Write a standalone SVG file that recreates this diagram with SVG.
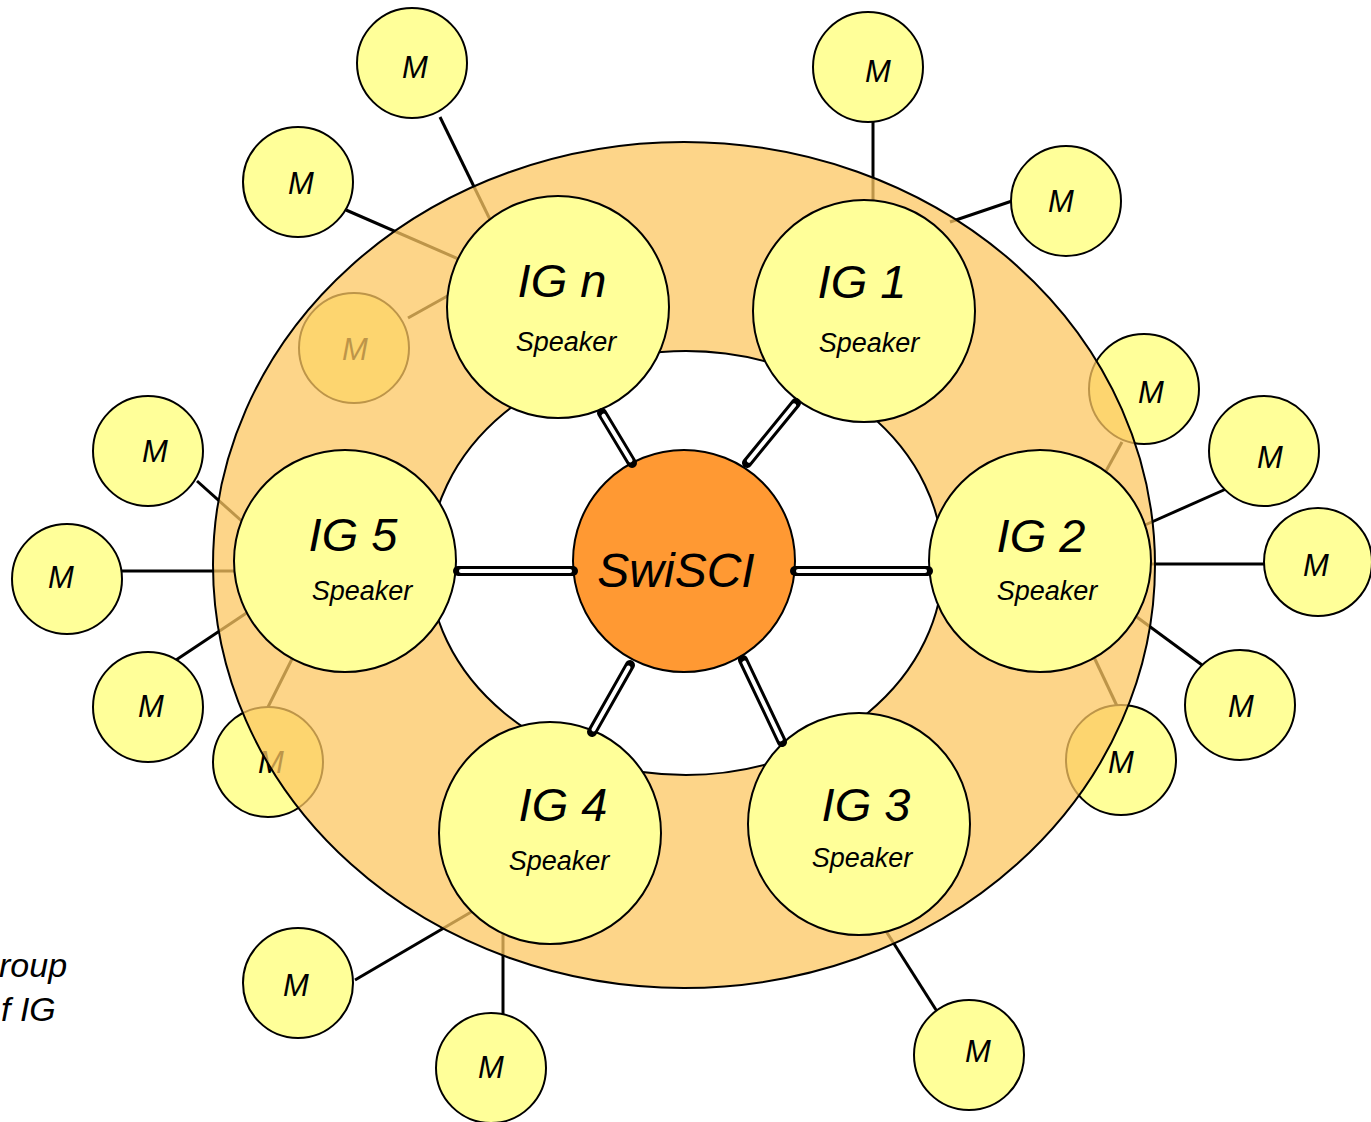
<svg xmlns="http://www.w3.org/2000/svg" width="1371" height="1122" viewBox="0 0 1371 1122">
<style>
.n{fill:#FFFF99;stroke:#000;stroke-width:2}
.sw{fill:#FF9933;stroke:#000;stroke-width:2}
.t{font-family:"Liberation Sans",Arial,sans-serif;font-style:italic;text-anchor:middle;fill:#000}
.big{font-size:47px}
.spk{font-size:27px}
.mt{font-size:31px}
.cap{font-family:"Liberation Sans",Arial,sans-serif;font-style:italic;font-size:34px;fill:#000}
.ln{stroke:#000;stroke-width:3;fill:none}
.bo{stroke:#000;stroke-width:10;stroke-linecap:round;fill:none}
.bi{stroke:#fff;stroke-width:4;stroke-linecap:round;fill:none}
.ring{fill:#FCC762;fill-opacity:0.75;fill-rule:evenodd;stroke:#000;stroke-width:2}
</style>
<rect width="1371" height="1122" fill="#fff"/>
<g id="member-links">
<line class="ln" x1="440" y1="117" x2="500" y2="240"/>
<line class="ln" x1="346" y1="210" x2="470" y2="264"/>
<line class="ln" x1="408" y1="318" x2="460" y2="289"/>
<line class="ln" x1="873" y1="120" x2="873" y2="205"/>
<line class="ln" x1="1012" y1="201" x2="950" y2="222"/>
<line class="ln" x1="1122" y1="442" x2="1100" y2="482"/>
<line class="ln" x1="1226" y1="489" x2="1145" y2="525"/>
<line class="ln" x1="1266" y1="564" x2="1145" y2="564"/>
<line class="ln" x1="1202" y1="665" x2="1130" y2="612"/>
<line class="ln" x1="1093" y1="655" x2="1117" y2="706"/>
<line class="ln" x1="884" y1="928" x2="938" y2="1013"/>
<line class="ln" x1="355" y1="980" x2="478" y2="908"/>
<line class="ln" x1="503" y1="930" x2="503" y2="1015"/>
<line class="ln" x1="197" y1="481" x2="245" y2="524"/>
<line class="ln" x1="122" y1="571" x2="240" y2="571"/>
<line class="ln" x1="176" y1="660" x2="248" y2="612"/>
<line class="ln" x1="294" y1="655" x2="268" y2="707"/>
</g>
<g id="m1"><circle class="n" cx="412" cy="63" r="55"/><text class="t mt" x="415" y="78">M</text></g>
<g id="m2"><circle class="n" cx="298" cy="182" r="55"/><text class="t mt" x="301" y="194">M</text></g>
<g id="m3"><circle class="n" cx="354" cy="348" r="55"/><text class="t mt" x="355" y="360">M</text></g>
<g id="m4"><circle class="n" cx="148" cy="451" r="55"/><text class="t mt" x="155" y="462">M</text></g>
<g id="m5"><circle class="n" cx="67" cy="579" r="55"/><text class="t mt" x="61" y="588">M</text></g>
<g id="m6"><circle class="n" cx="148" cy="707" r="55"/><text class="t mt" x="151" y="717">M</text></g>
<g id="m7"><circle class="n" cx="268" cy="762" r="55"/><text class="t mt" x="271" y="773">M</text></g>
<g id="m8"><circle class="n" cx="298" cy="983" r="55"/><text class="t mt" x="296" y="996">M</text></g>
<g id="m9"><circle class="n" cx="491" cy="1068" r="55"/><text class="t mt" x="491" y="1078">M</text></g>
<g id="m10"><circle class="n" cx="868" cy="67" r="55"/><text class="t mt" x="878" y="82">M</text></g>
<g id="m11"><circle class="n" cx="1066" cy="201" r="55"/><text class="t mt" x="1061" y="212">M</text></g>
<g id="m12"><circle class="n" cx="1144" cy="389" r="55"/><text class="t mt" x="1151" y="403">M</text></g>
<g id="m13"><circle class="n" cx="1264" cy="451" r="55"/><text class="t mt" x="1270" y="468">M</text></g>
<g id="m14"><circle class="n" cx="1318" cy="562" r="54"/><text class="t mt" x="1316" y="576">M</text></g>
<g id="m15"><circle class="n" cx="1240" cy="705" r="55"/><text class="t mt" x="1241" y="717">M</text></g>
<g id="m16"><circle class="n" cx="1121" cy="760" r="55"/><text class="t mt" x="1121" y="773">M</text></g>
<g id="m17"><circle class="n" cx="969" cy="1055" r="55"/><text class="t mt" x="978" y="1062">M</text></g>
<g id="ring">
<path class="ring" d="M213,565 A471,423 0 1,0 1155,565 A471,423 0 1,0 213,565 Z M429,563 A257,212 0 1,0 943,563 A257,212 0 1,0 429,563 Z"/>
</g>
<g id="ign"><circle class="n" cx="558" cy="307" r="111"/><text class="t big" x="562" y="297">IG n</text><text class="t spk" x="566" y="351">Speaker</text></g>
<g id="ig1"><circle class="n" cx="864" cy="311" r="111"/><text class="t big" x="862" y="298">IG 1</text><text class="t spk" x="869" y="352">Speaker</text></g>
<g id="ig2"><circle class="n" cx="1040" cy="561" r="111"/><text class="t big" x="1041" y="552">IG 2</text><text class="t spk" x="1047" y="600">Speaker</text></g>
<g id="ig3"><circle class="n" cx="859" cy="824" r="111"/><text class="t big" x="866" y="821">IG 3</text><text class="t spk" x="862" y="867">Speaker</text></g>
<g id="ig4"><circle class="n" cx="550" cy="833" r="111"/><text class="t big" x="563" y="821">IG 4</text><text class="t spk" x="559" y="870">Speaker</text></g>
<g id="ig5"><circle class="n" cx="345" cy="561" r="111"/><text class="t big" x="353" y="551">IG 5</text><text class="t spk" x="362" y="600">Speaker</text></g>
<g id="swisci"><circle class="sw" cx="684" cy="561" r="111"/><text class="t" style="font-size:48px" x="676" y="587">SwiSCI</text></g>
<g id="backbone-links">
<line class="bo" x1="602" y1="413" x2="632" y2="463"/><line class="bi" x1="603.5" y1="415.6" x2="630.5" y2="460.4"/>
<line class="bo" x1="796" y1="403" x2="747" y2="463"/><line class="bi" x1="794.1" y1="405.3" x2="748.9" y2="460.7"/>
<line class="bo" x1="458" y1="571" x2="573" y2="571"/><line class="bi" x1="461" y1="571" x2="570" y2="571"/>
<line class="bo" x1="795" y1="571" x2="928" y2="571"/><line class="bi" x1="798" y1="571" x2="925" y2="571"/>
<line class="bo" x1="630" y1="665" x2="592" y2="732"/><line class="bi" x1="628.5" y1="667.6" x2="593.5" y2="729.4"/>
<line class="bo" x1="743" y1="660" x2="782" y2="742"/><line class="bi" x1="744.3" y1="662.7" x2="780.7" y2="739.3"/>
</g>
<g id="caption">
<text class="cap" x="-1" y="977">roup</text>
<text class="cap" x="1" y="1021">f IG</text>
</g>
</svg>
